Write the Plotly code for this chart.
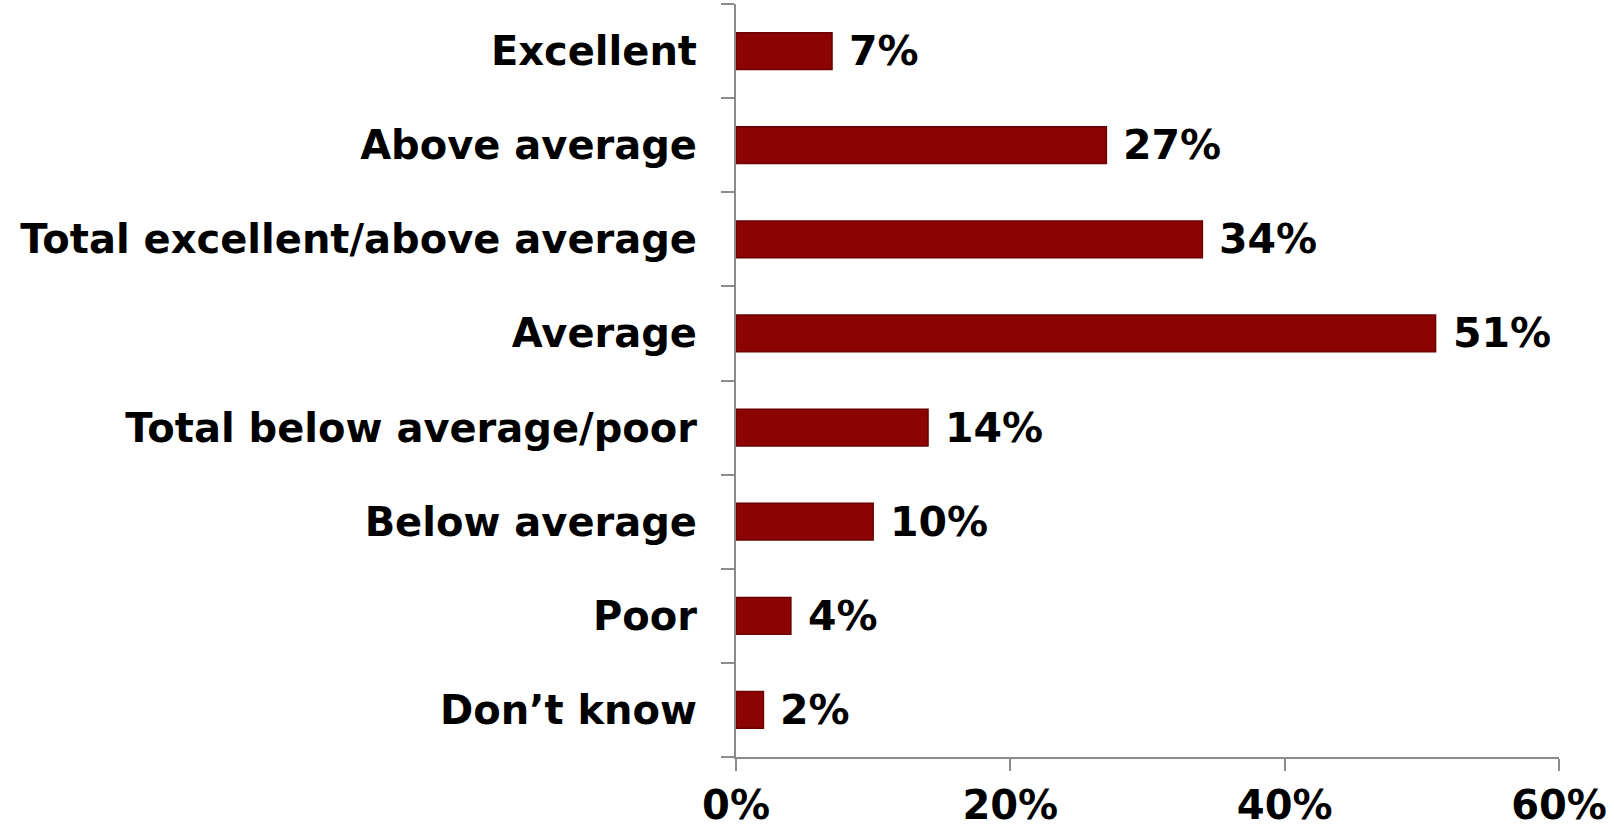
import plotly.graph_objects as go

categories = [
    "Excellent",
    "Above average",
    "Total excellent/above average",
    "Average",
    "Total below average/poor",
    "Below average",
    "Poor",
    "Don\u2019t know",
]
values = [7, 27, 34, 51, 14, 10, 4, 2]
x_ticks = [0, 20, 40, 60]
x_tick_labels = ["0%", "20%", "40%", "60%"]

FONT = "DejaVu Sans"
AXIS_GREY = "#8c8c8c"

fig = go.Figure()

fig.add_trace(
    go.Bar(
        x=values,
        y=categories,
        orientation="h",
        marker=dict(color="#8c0303", line=dict(color="#6a0000", width=1.5)),
        width=0.39,
        hoverinfo="skip",
    )
)

# value labels placed just past each bar end
for cat, val in zip(categories, values):
    fig.add_annotation(
        x=val,
        y=cat,
        text=f"{val}%",
        showarrow=False,
        xanchor="left",
        yanchor="middle",
        xshift=15,
        font=dict(family=FONT, size=41, color="black", weight="bold"),
    )

fig.update_layout(
    width=1614,
    height=828,
    margin=dict(l=736, r=55, t=4, b=71, autoexpand=False),
    paper_bgcolor="white",
    plot_bgcolor="white",
    showlegend=False,
    xaxis=dict(
        range=[0, 60],
        tickvals=x_ticks,
        ticktext=x_tick_labels,
        showgrid=False,
        zeroline=False,
        showline=True,
        linecolor=AXIS_GREY,
        linewidth=2,
        ticks="outside",
        ticklen=12,
        tickwidth=2,
        tickcolor=AXIS_GREY,
        tickfont=dict(family=FONT, size=40, color="black", weight="bold"),
        fixedrange=True,
    ),
    yaxis=dict(
        categoryorder="array",
        categoryarray=categories[::-1],
        showgrid=False,
        zeroline=False,
        showline=True,
        linecolor=AXIS_GREY,
        linewidth=2,
        ticks="outside",
        tickson="boundaries",
        ticklen=13,
        tickwidth=2,
        tickcolor=AXIS_GREY,
        ticklabelstandoff=29,
        tickfont=dict(family=FONT, size=40, color="black", weight="bold"),
        fixedrange=True,
    ),
)

fig.write_html("out.html")
